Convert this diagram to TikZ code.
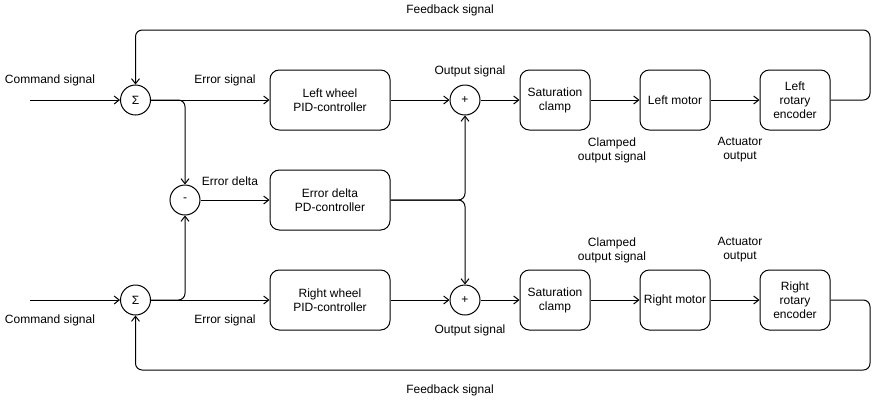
\documentclass[tikz,border=0pt]{standalone}
\usepackage{fontspec}
\setmainfont{Liberation Sans}
\usetikzlibrary{arrows.meta}
\begin{document}
\begin{tikzpicture}[x=0.75pt,y=-0.75pt,
  font=\fontsize{9pt}{10.5pt}\selectfont,
  line width=0.75pt,
  sumc/.style={draw,circle,minimum size=22.5pt,inner sep=0pt},
  blk/.style={draw,rounded corners=7pt,minimum height=45pt,align=center,inner sep=1pt},
  wide/.style={blk,minimum width=90pt},
  narrow/.style={blk,minimum width=52.5pt},
  arr/.style={-{Straight Barb[length=3.8pt,width=6pt]},rounded corners=5pt},
  lbl/.style={align=center,inner sep=0pt}]
\useasboundingbox (0,0) rectangle (879,401);
% summing junctions
\node[sumc] (s1) at (135.5,100) {Σ};
\node[sumc] (m)  at (185,200) {-};
\node[sumc] (s2) at (135.5,300) {Σ};
\node[sumc] (p1) at (465,100) {+};
\node[sumc] (p2) at (465,300) {+};
% blocks
\node[wide] (pid1) at (330,100) {Left wheel\\PID-controller};
\node[wide] (pd)   at (330,200) {Error delta\\PD-controller};
\node[wide] (pid2) at (330,300) {Right wheel\\PID-controller};
\node[narrow] (sat1) at (555,100) {Saturation\\clamp};
\node[narrow] (mot1) at (675,100) {Left motor};
\node[narrow] (enc1) at (795,100) {Left\\rotary\\encoder};
\node[narrow] (sat2) at (555,300) {Saturation\\clamp};
\node[narrow] (mot2) at (675,300) {Right motor};
\node[narrow] (enc2) at (795,300) {Right\\rotary\\encoder};
% free ends / corners
\coordinate (in1) at (30,100);
\coordinate (in2) at (30,300);
\coordinate (fb1) at (870,30);
\coordinate (fb2) at (870,370);
% connectors
\draw[arr] (in1) -- (s1);
\draw[arr] (in2) -- (s2);
\draw[arr] (s1) -- (pid1);
\draw[arr] (s2) -- (pid2);
\draw[arr] (s1.east) -| (m.north);
\draw[arr] (s2.east) -| (m.south);
\draw[arr] (m) -- (pd);
\draw[arr] (pid1) -- (p1);
\draw[arr] (pid2) -- (p2);
\draw[arr] (pd.east) -| (p1.south);
\draw[arr] (pd.east) -| (p2.north);
\draw[arr] (p1) -- (sat1);
\draw[arr] (p2) -- (sat2);
\draw[arr] (sat1) -- (mot1);
\draw[arr] (sat2) -- (mot2);
\draw[arr] (mot1) -- (enc1);
\draw[arr] (mot2) -- (enc2);
\draw[arr] (enc1.east) -| (fb1) -| (s1.north);
\draw[arr] (enc2.east) -| (fb2) -| (s2.south);
% labels
\node[lbl] (l1) at (50,80) {Command signal};
\node[lbl] (l2) at (50,320) {Command signal};
\node[lbl] (l3) at (225,80) {Error signal};
\node[lbl] (l4) at (225,320) {Error signal};
\node[lbl] (l5) at (230,181) {Error delta};
\node[lbl] (l6) at (470,71) {Output signal};
\node[lbl] (l7) at (470,330) {Output signal};
\node[lbl] (l8) at (612,150) {Clamped\\output signal};
\node[lbl] (l9) at (612,250) {Clamped\\output signal};
\node[lbl] (l10) at (740,150) {Actuator\\output};
\node[lbl] (l11) at (740,250) {Actuator\\output};
\node[lbl] (l12) at (450,10) {Feedback signal};
\node[lbl] (l13) at (450,390) {Feedback signal};
\end{tikzpicture}
\end{document}
